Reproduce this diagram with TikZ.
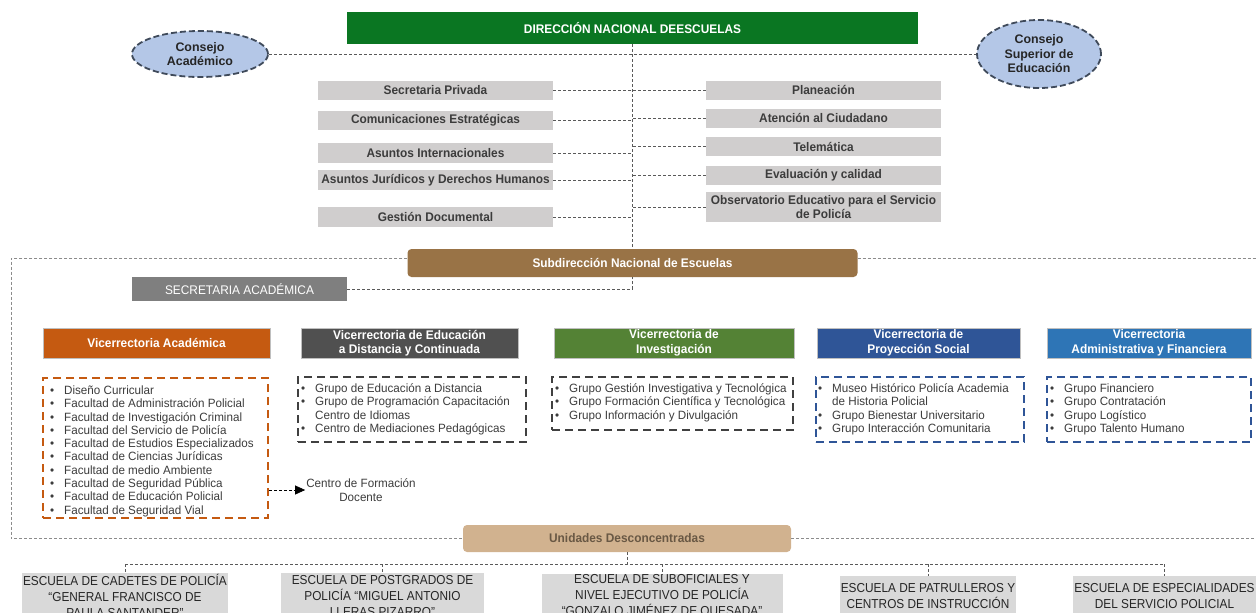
\documentclass[tikz,border=0pt]{standalone}
\usepackage{fontspec}
\setmainfont{Liberation Sans}
\newfontfamily\nar[FakeStretch=0.95]{Liberation Sans}
\newfontfamily\nars[FakeStretch=0.91]{Liberation Sans}
\newfontfamily\lst[FakeStretch=0.97]{Liberation Sans}
\usetikzlibrary{shapes.geometric,arrows.meta}
\definecolor{cgreen}{RGB}{10,118,34}
\definecolor{cbrown}{RGB}{153,115,70}
\definecolor{ctan}{RGB}{209,178,143}
\definecolor{ctantx}{RGB}{105,88,68}
\definecolor{csa}{RGB}{127,127,127}
\definecolor{corange}{RGB}{197,90,17}
\definecolor{cdark}{RGB}{80,80,80}
\definecolor{cinv}{RGB}{84,130,53}
\definecolor{cproy}{RGB}{47,85,151}
\definecolor{cadm}{RGB}{46,117,182}
\definecolor{cgbox}{RGB}{208,206,206}
\definecolor{cschool}{RGB}{217,217,217}
\definecolor{cell}{RGB}{180,199,231}
\definecolor{celld}{RGB}{63,74,90}
\definecolor{ctxt}{RGB}{60,60,60}
\definecolor{cconn}{RGB}{89,89,89}
\definecolor{cframe}{RGB}{140,140,140}
\newcommand\bl{\makebox[14pt][l]{\textbullet}}
\newcommand\nb{\hspace*{14pt}}
\tikzset{
  gbox/.style={fill=cgbox, inner sep=0, text=ctxt, align=center,
    font=\nar\bfseries\fontsize{12.5}{14}\selectfont},
  hdr/.style={inner sep=0, text=white, align=center, draw=white!75!black, line width=0.4pt,
    font=\nar\bfseries\fontsize{12.5}{14.5}\selectfont},
  ell/.style={ellipse, fill=cell, draw=celld, line width=1.8pt, dash pattern=on 6pt off 3pt,
    inner sep=0, align=center, text=black!85, font=\bfseries\fontsize{12.4}{14.5}\selectfont},
  conn/.style={draw=cconn, line width=0.7pt, dash pattern=on 3pt off 2pt},
  frame/.style={draw=cframe, line width=0.7pt, dash pattern=on 3pt off 2pt},
  lbox/.style={line width=1.6pt, dash pattern=on 8pt off 5pt, inner sep=0},
  ltxt/.style={anchor=north west, inner sep=0, align=left, text=ctxt,
    font=\lst\fontsize{12}{13.3}\selectfont},
  school/.style={fill=cschool, inner sep=0, text=black!85, align=center,
    font=\nars\fontsize{13}{16}\selectfont},
}
\begin{document}
\begin{tikzpicture}[x=1pt,y=-1pt]
\useasboundingbox (0,0) rectangle (1256,613);
\clip (0,0) rectangle (1256,613);
% top
\node[fill=cgreen, inner sep=0, minimum width=571pt, minimum height=32pt, text=white,
  font=\nar\bfseries\fontsize{12.5}{14}\selectfont] (dir) at (632.5,28) {DIRECCIÓN NACIONAL DEESCUELAS};
\node[ell, minimum width=136pt, minimum height=46pt] (ca) at (200,54) {Consejo\\Académico};
\node[ell, minimum width=124pt, minimum height=68pt] (cs) at (1039,54) {Consejo\\Superior de\\Educación};
% left staff boxes
\node[gbox, minimum width=235pt, minimum height=19pt] (sp) at (435.5,90) {Secretaria Privada};
\node[gbox, minimum width=235pt, minimum height=19pt] (ce) at (435.5,120) {Comunicaciones Estratégicas};
\node[gbox, minimum width=235pt, minimum height=20pt] (ai) at (435.5,153) {Asuntos Internacionales};
\node[gbox, minimum width=235pt, minimum height=20pt] (aj) at (435.5,180) {Asuntos Jurídicos y Derechos Humanos};
\node[gbox, minimum width=235pt, minimum height=20pt] (gd) at (435.5,217) {Gestión Documental};
% right staff boxes
\node[gbox, minimum width=235pt, minimum height=19pt] (pl) at (823.5,90) {Planeación};
\node[gbox, minimum width=235pt, minimum height=19pt] (at) at (823.5,118) {Atención al Ciudadano};
\node[gbox, minimum width=235pt, minimum height=19pt] (te) at (823.5,146.5) {Telemática};
\node[gbox, minimum width=235pt, minimum height=19pt] (ev) at (823.5,175) {Evaluación y calidad};
\node[gbox, minimum width=235pt, minimum height=30pt] (ob) at (823.5,207) {Observatorio Educativo para el Servicio\\de Policía};
% subdireccion
\node[fill=cbrown, rounded corners=4pt, inner sep=0, minimum width=450pt, minimum height=28pt, text=white,
  font=\nar\bfseries\fontsize{12.5}{14}\selectfont] (sub) at (632.5,263) {Subdirección Nacional de Escuelas};
\node[fill=csa, inner sep=0, minimum width=215pt, minimum height=24pt, text=white,
  font=\nar\fontsize{12.5}{14}\selectfont] (sa) at (239.5,289) {SECRETARIA ACADÉMICA};
% connectors top
\draw[conn] (ca.east) -- (cs.west);
\draw[conn] (dir.south) -- (sub.north);
\draw[conn] (sp.east) -- (pl.west);
\draw[conn] (ce.east) -- (ce.east -| dir.south);
\draw[conn] (ai.east) -- (ai.east -| dir.south);
\draw[conn] (aj.east) -- (aj.east -| dir.south);
\draw[conn] (gd.east) -- (gd.east -| dir.south);
\draw[conn] (at.west) -- (at.west -| dir.south);
\draw[conn] (te.west) -- (te.west -| dir.south);
\draw[conn] (ev.west) -- (ev.west -| dir.south);
\draw[conn] (ob.west) -- (ob.west -| dir.south);
\draw[conn] (sa.east) -| (sub.south);
% vicerrectorias
\node[hdr, fill=corange, minimum width=227pt, minimum height=30pt] (v1) at (156.5,343) {Vicerrectoria Académica};
\node[hdr, fill=cdark, minimum width=217pt, minimum height=30pt] (v2) at (409.5,343) {Vicerrectoria de Educación\\a Distancia y Continuada};
\node[hdr, fill=cinv, minimum width=240pt, minimum height=30pt] (v3) at (674,343) {Vicerrectoria de\\Investigación};
\node[hdr, fill=cproy, minimum width=203pt, minimum height=30pt] (v4) at (918.5,343) {Vicerrectoria de\\Proyección Social};
\node[hdr, fill=cadm, minimum width=204pt, minimum height=30pt] (v5) at (1149,343) {Vicerrectoria\\Administrativa y Financiera};
% list boxes
\node[lbox, draw=corange, minimum width=225pt, minimum height=140pt] (l1) at (155.5,448) {};
\node[lbox, draw=black!75, minimum width=228pt, minimum height=65pt] (l2) at (412,409.5) {};
\node[lbox, draw=black!75, minimum width=241pt, minimum height=53pt] (l3) at (672.5,403.5) {};
\node[lbox, draw=cproy, minimum width=208pt, minimum height=65pt] (l4) at (920,409.5) {};
\node[lbox, draw=cproy, minimum width=204pt, minimum height=65pt] (l5) at (1149,409.5) {};
\node[ltxt] (t1) at (50,385.5) {\bl Diseño Curricular\\\bl Facultad de Administración Policial\\\bl Facultad de Investigación Criminal\\\bl Facultad del Servicio de Policía\\\bl Facultad de Estudios Especializados\\\bl Facultad de Ciencias Jurídicas\\\bl Facultad de medio Ambiente\\\bl Facultad de Seguridad Pública\\\bl Facultad de Educación Policial\\\bl Facultad de Seguridad Vial};
\node[ltxt] (t2) at (301,383.5) {\bl Grupo de Educación a Distancia\\\bl Grupo de Programación Capacitación\\\nb Centro de Idiomas\\\bl Centro de Mediaciones Pedagógicas};
\node[ltxt] (t3) at (555,383.5) {\bl Grupo Gestión Investigativa y Tecnológica\\\bl Grupo Formación Científica  y Tecnológica\\\bl Grupo Información y Divulgación};
\node[ltxt] (t4) at (818,383.5) {\bl Museo Histórico Policía  Academia\\\nb de Historia Policial\\\bl Grupo Bienestar Universitario\\\bl Grupo Interacción Comunitaria};
\node[ltxt] (t5) at (1050,383.5) {\bl Grupo Financiero\\\bl Grupo Contratación\\\bl Grupo Logístico\\\bl Grupo Talento Humano};
% centro de formacion
\node[inner sep=1pt, align=center, text=ctxt, font=\lst\fontsize{12}{13.5}\selectfont] (cf) at (361,490) {Centro de Formación\\Docente};
\draw[conn, draw=black, -{Triangle[length=10pt,width=9pt]}] (l1.east |- cf.west) -- (cf.west);
% unidades
\node[fill=ctan, rounded corners=4pt, inner sep=0, minimum width=328pt, minimum height=27pt, text=ctantx,
  font=\nar\bfseries\fontsize{12.5}{14}\selectfont] (un) at (627,538.5) {Unidades Desconcentradas};
% frame
\coordinate (fTL) at (11,258);
\coordinate (fTR) at (1256,258);
\draw[frame] (sub.west |- fTL) -- (fTL) -- (fTL |- un.west) -- (un.west);
\draw[frame] (sub.east |- fTR) -- (fTR);
\draw[frame] (un.east) -- (un.east -| fTR);
% schools
\node[school, minimum width=206pt, minimum height=46pt] (s1) at (125,596) {ESCUELA DE CADETES DE POLICÍA\\“GENERAL FRANCISCO DE\\PAULA SANTANDER”};
\node[school, minimum width=203pt, minimum height=46pt] (s2) at (382.5,596) {ESCUELA DE POSTGRADOS DE\\POLICÍA “MIGUEL ANTONIO\\LLERAS PIZARRO”};
\node[school, minimum width=241pt, minimum height=40pt] (s3) at (662,596) {ESCUELA DE SUBOFICIALES Y\\NIVEL EJECUTIVO DE POLICÍA\\“GONZALO JIMÉNEZ DE QUESADA”};
\node[school, minimum width=176pt, minimum height=40pt] (s4) at (928,596) {ESCUELA DE PATRULLEROS Y\\CENTROS DE INSTRUCCIÓN};
\node[school, minimum width=183pt, minimum height=40pt] (s5) at (1164.5,596) {ESCUELA DE ESPECIALIDADES\\DEL SERVICIO POLICIAL};
\coordinate (bus) at (627,564);
\draw[conn] (un.south) -- (bus);
\draw[conn] (s1.north |- bus) -- (s5.north |- bus);
\foreach \s in {s1,s2,s3,s4,s5} \draw[conn] (\s.north |- bus) -- (\s.north);
\end{tikzpicture}
\end{document}
